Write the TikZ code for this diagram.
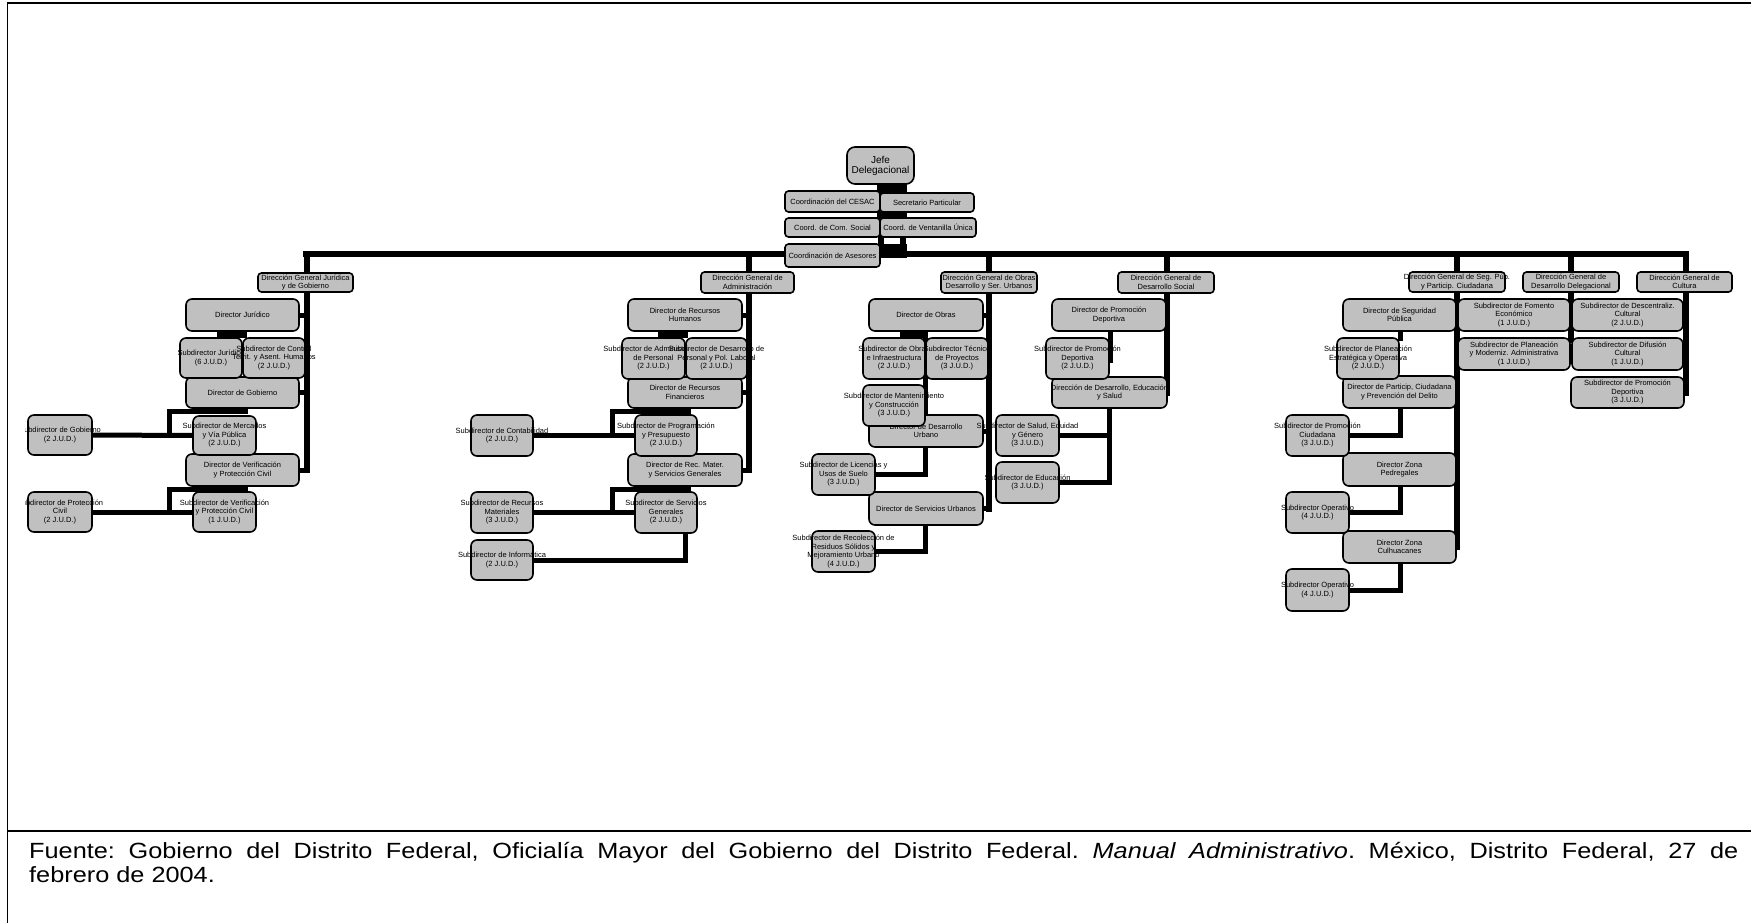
\documentclass[tikz,border=0pt]{standalone}
\usepackage{fontspec}
\setmainfont{Liberation Sans}
\newfontfamily\footfont{Liberation Sans}[FakeStretch=1.15]
\usetikzlibrary{calc,backgrounds}
\definecolor{boxgray}{HTML}{C0C0C0}
\tikzset{
 x=1pt, y=-1pt,
 obox/.style={draw=black, line width=1.6pt, fill=boxgray, rounded corners=6pt, inner sep=0pt, outer sep=0pt},
 sm/.style={rounded corners=3.5pt},
 otxt/.style={align=center, inner sep=0pt, font=\fontsize{7.5}{8.5}\selectfont},
 conn/.style={line width=6pt, draw=black, line cap=rect},
 sconn/.style={line width=5pt, draw=black, line cap=rect},
 framest/.style={line width=1.5pt, draw=black},
 foot/.style={anchor=base west, inner sep=0pt, font=\footfont\fontsize{22}{24}\selectfont\frenchspacing}
}
\newcommand\obox[7][]{%
  \pgfmathsetmacro\obw{#5-#3}\pgfmathsetmacro\obh{#6-#4}%
  \pgfmathsetmacro\obx{(#3+#5)/2}\pgfmathsetmacro\oby{(#4+#6)/2}%
  \node[obox,#1,minimum width=\obw pt,minimum height=\obh pt,label={[otxt]center:{#7}}] (#2) at (\obx,\oby) {};}
\begin{document}
\begin{tikzpicture}
\useasboundingbox (0,0) rectangle (1751,923);
\begin{scope}
\clip (25,0) rectangle (1751,830);
% top
\node[obox, rounded corners=8pt, minimum width=67pt, minimum height=37pt,
  label={[otxt,font=\fontsize{10}{10}\selectfont]center:{Jefe\\Delegacional}}] (jefe) at (880.5,165.5) {};
\obox[sm]{cesac}{785}{191}{880}{212}{Coordinación del CESAC}
\obox[sm]{secpart}{880}{193}{974}{212}{Secretario Particular}
\obox[sm]{comsoc}{785}{218}{880}{237}{Coord. de Com. Social}
\obox[sm]{ventan}{880}{218}{976}{237}{Coord. de Ventanilla Única}
\obox[sm]{ases}{785}{244}{880}{267}{Coordinación de Asesores}
% cluster 1
\obox[sm]{dgjur}{258}{273}{353}{292}{Dirección General Jurídica\\y de Gobierno}
\obox{dirjur}{186}{299}{299}{331}{Director Jurídico}
\obox{dirgob}{186}{377}{299}{408}{Director de Gobierno}
\obox{dirverif}{186}{454}{299}{486}{Director de Verificación\\y Protección Civil}
\obox{subjur}{180}{338}{242}{378}{Subdirector Jurídico\\(6 J.U.D.)}
\obox{subctrl}{243}{338}{305}{378}{Subdirector de Control\\Territ. y Asent. Humanos\\(2 J.U.D.)}
\obox{mercados}{193}{416}{256}{455}{Subdirector de Mercados\\y Vía Pública\\(2 J.U.D.)}
\obox{subgob}{28}{415}{92}{455}{Subdirector de Gobierno\\(2 J.U.D.)}
\obox{subverif}{193}{492}{256}{532}{Subdirector de Verificación\\y Protección Civil\\(1 J.U.D.)}
\obox{subprot}{28}{492}{92}{532}{Subdirector de Protección\\Civil\\(2 J.U.D.)}
% cluster 2
\obox[sm]{dgadm}{701}{272}{794}{293}{Dirección General de\\Administración}
\obox{dirrh}{628}{299}{742}{331}{Director de Recursos\\Humanos}
\obox{dirfin}{628}{377}{742}{408}{Director de Recursos\\Financieros}
\obox{dirmat}{628}{454}{742}{486}{Director de Rec. Mater.\\y Servicios Generales}
\obox{subadm}{622}{338}{685}{379}{Subdirector de Administración\\de Personal\\(2 J.U.D.)}
\obox{subdes}{686}{338}{747}{379}{Subdirector de Desarrollo de\\Personal y Pol. Laboral\\(2 J.U.D.)}
\obox{progr}{635}{415}{697}{456}{Subdirector de Programación\\y Presupuesto\\(2 J.U.D.)}
\obox{contab}{471}{415}{533}{456}{Subdirector de Contabilidad\\(2 J.U.D.)}
\obox{servgen}{635}{492}{697}{533}{Subdirector de Servicios\\Generales\\(2 J.U.D.)}
\obox{recmat}{471}{492}{533}{533}{Subdirector de Recursos\\Materiales\\(3 J.U.D.)}
\obox{inform}{471}{540}{533}{580}{Subdirector de Informática\\(2 J.U.D.)}
% cluster 3
\obox[sm]{dgobras}{941}{272}{1037}{293}{Dirección General de Obras\\Desarrollo y Ser. Urbanos}
\obox{dirobras}{869}{299}{983}{331}{Director de Obras}
\obox{dirdu}{869}{415}{983}{447}{Director de Desarrollo\\Urbano}
\obox{dirsu}{869}{492}{983}{525}{Director de Servicios Urbanos}
\obox{subobras}{863}{338}{925}{379}{Subdirector de Obras\\e Infraestructura\\(2 J.U.D.)}
\obox{subtec}{926}{338}{988}{379}{Subdirector Técnico\\de Proyectos\\(3 J.U.D.)}
\obox{mant}{863}{385}{925}{426}{Subdirector de Mantenimiento\\y Construcción\\(3 J.U.D.)}
\obox{lic}{812}{454}{875}{495}{Subdirector de Licencias y\\Usos de Suelo\\(3 J.U.D.)}
\obox{recol}{812}{531}{875}{572}{Subdirector de Recolección de\\Residuos Sólidos y\\Mejoramiento Urbano\\(4 J.U.D.)}
% cluster 4
\obox[sm]{dgsoc}{1118}{272}{1214}{293}{Dirección General de\\Desarrollo Social}
\obox{dirprom}{1052}{299}{1166}{331}{Director de Promoción\\Deportiva}
\obox{dirdes}{1052}{377}{1167}{408}{Dirección de Desarrollo, Educación\\y Salud}
\obox{subprom}{1046}{338}{1109}{379}{Subdirector de Promoción\\Deportiva\\(2 J.U.D.)}
\obox{salud}{996}{415}{1059}{456}{Subdirector de Salud, Equidad\\y Género\\(3 J.U.D.)}
\obox{educ}{996}{462}{1059}{503}{Subdirector de Educación\\(3 J.U.D.)}
% cluster 5
\obox[sm]{dgseg}{1409}{272}{1505}{292}{Dirección General de Seg. Púb.\\y Particip. Ciudadana}
\obox{dirseg}{1343}{299}{1456}{331}{Director de Seguridad\\Pública}
\obox{dirpart}{1343}{376}{1456}{408}{Director de Particip, Ciudadana\\y Prevención del Delito}
\obox{dirped}{1343}{453}{1456}{486}{Director Zona\\Pedregales}
\obox{dirculh}{1343}{531}{1456}{563}{Director Zona\\Culhuacanes}
\obox{subplan}{1337}{338}{1399}{379}{Subdirector de Planeación\\Estratégica y Operativa\\(2 J.U.D.)}
\obox{promciud}{1286}{415}{1349}{456}{Subdirector de Promoción\\Ciudadana\\(3 J.U.D.)}
\obox{oper1}{1286}{492}{1349}{533}{Subdirector Operativo\\(4 J.U.D.)}
\obox{oper2}{1286}{569}{1349}{611}{Subdirector Operativo\\(4 J.U.D.)}
% cluster 6
\obox[sm]{dgdel}{1523}{272}{1619}{292}{Dirección General de\\Desarrollo Delegacional}
\obox{fomento}{1458}{299}{1570}{331}{Subdirector de Fomento\\Económico\\(1 J.U.D.)}
\obox{planmod}{1458}{338}{1570}{370}{Subdirector de Planeación\\y Moderniz. Administrativa\\(1 J.U.D.)}
% cluster 7
\obox[sm]{dgcul}{1637}{272}{1732}{292}{Dirección General de\\Cultura}
\obox{descent}{1572}{299}{1683}{331}{Subdirector de Descentraliz.\\Cultural\\(2 J.U.D.)}
\obox{difus}{1572}{338}{1683}{370}{Subdirector de Difusión\\Cultural\\(1 J.U.D.)}
\obox{promdep}{1571}{377}{1684}{408}{Subdirector de Promoción\\Deportiva\\(3 J.U.D.)}
\end{scope}

\begin{pgfonlayer}{background}
\coordinate (barY) at (0,254);
% top connectors
\fill ($(jefe.south)+(-3.5,0)$) rectangle ($(ventan.north west)+(27,0)$);
\draw[conn] ($(jefe.south)+(0.5,0)$) -- ($(jefe.south|-barY)+(0.5,0)$);
\draw[conn] ($(ventan.south west)+(23,0)$) -- ($(ventan.south west|-barY)+(23,0)$);
\fill (ases.north east) rectangle ($(ases.north east)+(27,14)$);
% main bar
\draw[conn] (dgjur.center|-barY) -- ($(dgcul.center|-barY)+(1,0)$);
% trunks
\draw[conn] ($(dgjur.center|-barY)+(1.5,0)$) -- ($(dgjur.center|-dirverif.center)+(1.5,0)$);
\draw[conn] ($(dgadm.center|-barY)+(1.5,0)$) -- ($(dgadm.center|-dirmat.center)+(1.5,0)$);
\draw[conn] (dgobras.center|-barY) -- (dgobras.center|-dirsu.center);
\draw[conn] ($(dgsoc.center|-barY)+(1,0)$) -- ($(dgsoc.center|-dirdes.center)+(1,0)$);
\draw[conn] (dgseg.center|-barY) -- (dgseg.center|-dirculh.center);
\draw[conn] (dgdel.center|-barY) -- ($(dgdel.center|-planmod.north)+(0,2)$);
\draw[conn] ($(dgcul.center|-barY)+(1,0)$) -- ($(dgcul.center|-promdep.center)+(1,0)$);
% stubs
\foreach \d in {dirjur,dirgob,dirverif}{\draw[sconn] (\d.east) -- ($(\d.east-|dgjur.center)+(1.5,0)$);}
\foreach \d in {dirrh,dirfin,dirmat}{\draw[sconn] (\d.east) -- ($(\d.east-|dgadm.center)+(1.5,0)$);}
\foreach \d in {dirobras,dirdu,dirsu}{\draw[sconn] (\d.east) -- (\d.east-|dgobras.center);}
\foreach \d in {dirseg,dirpart,dirped,dirculh}{\draw[sconn] (\d.east) -- (\d.east-|dgseg.center);}
% cluster 1
\fill ($(dirjur.south)+(-25.5,0)$) rectangle ($(dirjur.south)+(4.5,7)$);
\draw[sconn] (subgob.east) -- (mercados.west);
\draw[sconn] ($(subgob.east)+(77,0)$) |- ($(dirgob.south)+(3,3.5)$);
\draw[sconn] (subprot.east) -- (subverif.west);
\draw[sconn] ($(subprot.east)+(77,0)$) |- ($(dirverif.south)+(3,3.5)$);
% cluster 2
\fill ($(dirrh.south)+(-27,0)$) rectangle ($(dirrh.south)+(3,7)$);
\draw[sconn] (contab.east) -- (progr.west);
\draw[sconn] ($(contab.east)+(79,0)$) |- ($(dirfin.south)+(3,3.5)$);
\draw[sconn] (recmat.east) -- (servgen.west);
\draw[sconn] ($(recmat.east)+(79,0)$) |- ($(dirmat.south)+(3,3.5)$);
\draw[sconn] (inform.east) -| ($(servgen.south)+(19,0)$);
% cluster 3
\fill ($(dirobras.south)+(-26,0)$) rectangle ($(dirobras.south)+(2,7)$);
\draw[sconn] ($(dirobras.south)+(-0.5,0)$) -- ($(dirdu.north)+(-0.5,0)$);
\draw[sconn] (lic.east) -| ($(dirdu.south)+(-0.5,0)$);
\draw[sconn] (recol.east) -| ($(dirsu.south)+(-0.5,0)$);
% cluster 4
\draw[sconn] ($(dirprom.south)+(1,0)$) -- ($(dirprom.south)+(1,29)$);
\draw[sconn] (salud.east) -| ($(dirdes.south)+(-0.5,0)$);
\draw[sconn] (educ.east) -| ($(dirdes.south)+(-0.5,0)$);
% cluster 5
\draw[sconn] ($(dirseg.south)+(1,0)$) -- ($(dirseg.south)+(1,7)$);
\draw[sconn] (promciud.east) -| ($(dirpart.south)+(1,0)$);
\draw[sconn] (oper1.east) -| ($(dirped.south)+(1,0)$);
\draw[sconn] (oper2.east) -| ($(dirculh.south)+(1,0)$);
\end{pgfonlayer}

% frame
\draw[framest] (7.5,923) -- (7.5,3) -- (1751,3);
\draw[framest] (7.5,831) -- (1751,831);
% footer
\node[foot] (fuente1) at (29,858)
 {\makebox[1709pt][s]{Fuente: Gobierno del Distrito Federal, Oficialía Mayor del Gobierno del Distrito Federal. \textit{Manual Administrativo}. México, Distrito Federal, 27 de}};
\node[foot] (fuente2) at (29,882) {febrero de 2004.};
\end{tikzpicture}
\end{document}
